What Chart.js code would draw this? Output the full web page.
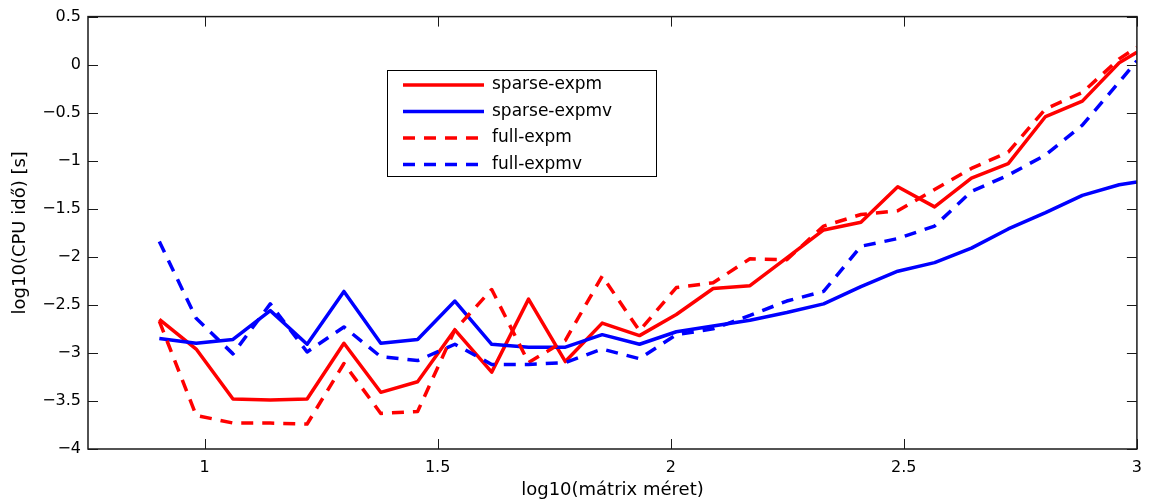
<!DOCTYPE html>
<html><head><meta charset="utf-8">
<script src="https://cdn.jsdelivr.net/npm/chart.js@4.4.0/dist/chart.umd.min.js"></script>
<style>html,body{margin:0;padding:0;background:#fff;overflow:hidden}canvas{display:block}</style>
</head><body>
<canvas id="c" width="1151" height="503"></canvas>
<script>
// log10 of matrix size
const logSize = [0.903,0.982,1.061,1.141,1.220,1.299,1.378,1.457,1.537,1.616,1.695,1.774,1.853,1.933,2.012,2.091,2.170,2.249,2.328,2.408,2.487,2.566,2.645,2.724,2.804,2.883,2.962,3.000];
// log10 CPU time [s]
const sparseExpm  = [-2.65,-2.96,-3.48,-3.49,-3.48,-2.90,-3.41,-3.30,-2.76,-3.20,-2.44,-3.09,-2.69,-2.82,-2.60,-2.33,-2.30,-2.01,-1.72,-1.64,-1.27,-1.48,-1.18,-1.03,-0.54,-0.38,0.02,0.13];
const sparseExpmv = [-2.85,-2.90,-2.86,-2.56,-2.91,-2.36,-2.90,-2.86,-2.46,-2.91,-2.94,-2.94,-2.81,-2.91,-2.78,-2.72,-2.66,-2.58,-2.49,-2.31,-2.15,-2.06,-1.91,-1.71,-1.54,-1.36,-1.25,-1.22];
const fullExpm    = [-2.67,-3.65,-3.73,-3.73,-3.74,-3.11,-3.63,-3.61,-2.76,-2.34,-3.10,-2.87,-2.20,-2.77,-2.32,-2.27,-2.02,-2.03,-1.68,-1.56,-1.52,-1.30,-1.08,-0.91,-0.46,-0.29,0.06,0.18];
const fullExpmv   = [-1.84,-2.64,-3.01,-2.49,-2.99,-2.73,-3.04,-3.08,-2.91,-3.12,-3.12,-3.10,-2.96,-3.06,-2.81,-2.75,-2.61,-2.46,-2.36,-1.89,-1.81,-1.68,-1.32,-1.15,-0.94,-0.63,-0.18,0.04];
const seriesNames = ['sparse-expm','sparse-expmv','full-expm','full-expmv'];
const xTickValues = [1,1.5,2,2.5,3];
const yTickValues = [0.5,0,-0.5,-1,-1.5,-2,-2.5,-3,-3.5,-4];

const FONT = 'DejaVu Sans';
function pts(ys){ return logSize.map((x,i)=>({x:x, y:ys[i]})); }
function fmt(v){ return String(v).replace('-', '\u2212'); }

const DASH = [12, 9];
const seriesStyle = [
  {color:'#ff0000', dash:[]},
  {color:'#0000ff', dash:[]},
  {color:'#ff0000', dash:DASH},
  {color:'#0000ff', dash:DASH}
];
const seriesData = [sparseExpm, sparseExpmv, fullExpm, fullExpmv];

const datasets = seriesData.map((d,i)=>({
  label: seriesNames[i],
  data: pts(d),
  borderColor: seriesStyle[i].color,
  backgroundColor: seriesStyle[i].color,
  borderDash: seriesStyle[i].dash,
  borderWidth: 3.5,
  borderJoinStyle: 'round',
  pointRadius: 0,
  tension: 0,
  fill: false,
  order: 4 - i
}));

const framePlugin = {
  id: 'frame',
  afterDraw(chart){
    const {ctx, chartArea, scales} = chart;
    const {left, top, right, bottom} = chartArea;
    const xs = scales.x, ys = scales.y;
    const L = 10;
    ctx.save();
    ctx.strokeStyle = '#1a1a1a';
    ctx.lineWidth = 1;
    ctx.beginPath();
    xs.ticks.forEach(t=>{
      const p = Math.round(xs.getPixelForValue(t.value)) + 0.5;
      ctx.moveTo(p, bottom); ctx.lineTo(p, bottom - L);
      ctx.moveTo(p, top); ctx.lineTo(p, top + L);
    });
    ys.ticks.forEach(t=>{
      const p = Math.round(ys.getPixelForValue(t.value)) + 0.5;
      ctx.moveTo(left, p); ctx.lineTo(left + L, p);
      ctx.moveTo(right, p); ctx.lineTo(right - L, p);
    });
    ctx.stroke();
    ctx.lineWidth = 1.5;
    ctx.strokeRect(left, top, right - left, bottom - top);

    // legend
    const bx = 387.5, by = 70.5, bw = 269, bh = 106;
    ctx.fillStyle = '#fff';
    ctx.fillRect(bx, by, bw, bh);
    ctx.lineWidth = 1;
    ctx.strokeStyle = '#000';
    ctx.strokeRect(bx, by, bw, bh);
    const rows = [85, 111.5, 138, 164.5];
    chart.data.datasets.forEach((ds, i)=>{
      const yy = rows[i];
      ctx.save();
      ctx.strokeStyle = ds.borderColor;
      ctx.lineWidth = ds.borderWidth;
      ctx.setLineDash(ds.borderDash);
      ctx.beginPath();
      ctx.moveTo(403, yy); ctx.lineTo(484, yy);
      ctx.stroke();
      ctx.restore();
      ctx.fillStyle = '#000';
      ctx.font = '17px "' + FONT + '"';
      ctx.textBaseline = 'middle';
      ctx.textAlign = 'left';
      ctx.fillText(ds.label, 492, yy);
    });
    ctx.restore();
  }
};

new Chart(document.getElementById('c'), {
  type: 'line',
  data: { datasets },
  options: {
    responsive: false,
    animation: false,
    devicePixelRatio: 1,
    layout: { padding: { left: 0, right: 12, top: 14, bottom: 0 } },
    plugins: { legend: { display: false }, tooltip: { enabled: false } },
    scales: {
      x: {
        type: 'linear',
        min: 0.75, max: 3,
        afterBuildTicks(scale){ scale.ticks = xTickValues.map(v=>({value:v})); },
        afterFit(scale){ scale.height = 54; },
        grid: { display: false, drawTicks: false },
        border: { display: false },
        ticks: { color: '#000', padding: 9, font: { family: FONT, size: 16 }, callback: v => fmt(v), maxRotation: 0, autoSkip: false },
        title: { display: true, text: 'log10(mátrix méret)', color: '#000', font: { family: FONT, size: 18 }, padding: { top: 0, bottom: 2 } }
      },
      y: {
        type: 'linear',
        min: -4, max: 0.5,
        afterBuildTicks(scale){ scale.ticks = yTickValues.map(v=>({value:v})); },
        afterFit(scale){ scale.width = 88; },
        grid: { display: false, drawTicks: false },
        border: { display: false },
        ticks: { color: '#000', padding: 7, font: { family: FONT, size: 16 }, callback: v => fmt(v), autoSkip: false },
        title: { display: true, text: 'log10(CPU idő) [s]', color: '#000', font: { family: FONT, size: 18 }, padding: { top: 10, bottom: 0 } }
      }
    }
  },
  plugins: [framePlugin]
});
</script>
</body></html>
